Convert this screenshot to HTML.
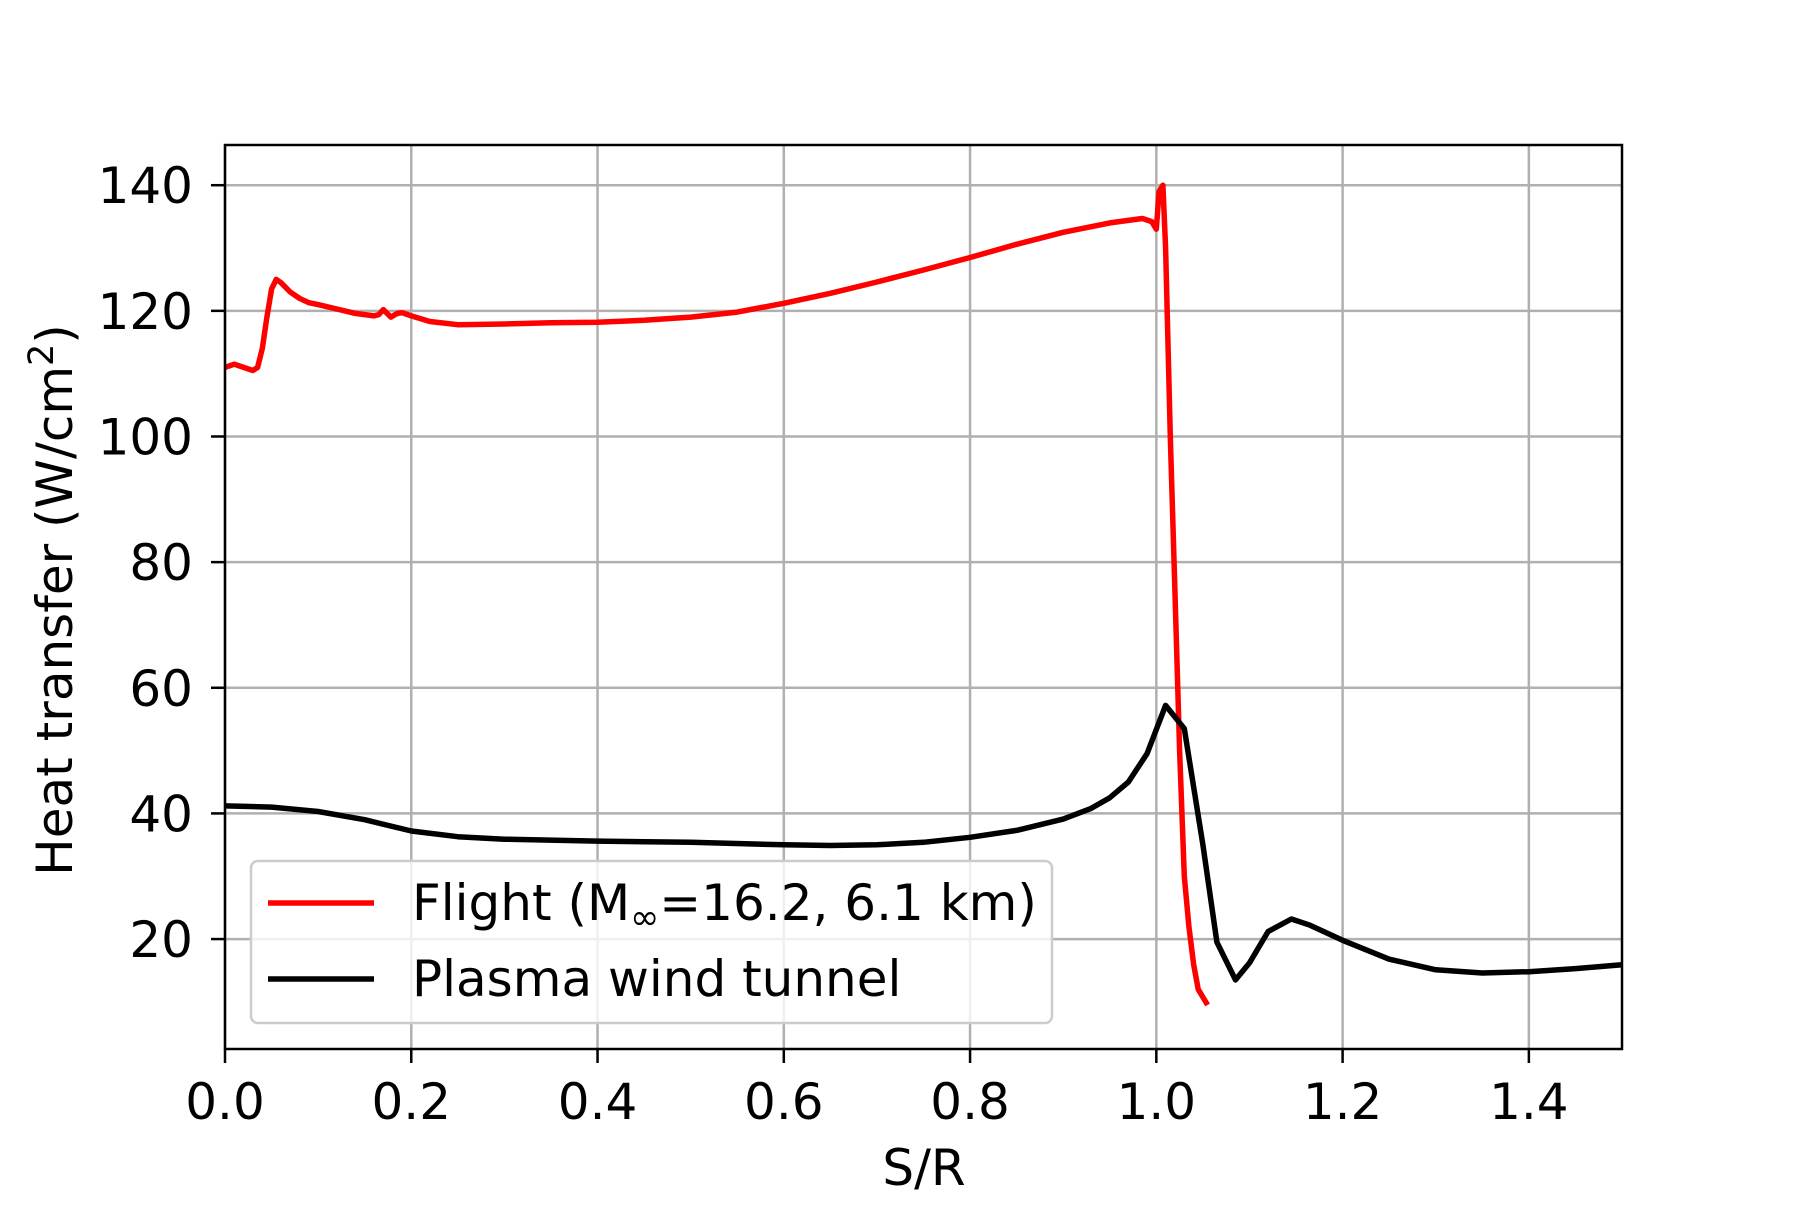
<!DOCTYPE html>
<html><head><meta charset="utf-8"><style>
html,body{margin:0;padding:0;background:#fff;}
svg text{font-family:"DejaVu Sans","Liberation Sans",sans-serif;}
</style></head><body>
<svg id="chart" width="1800" height="1200" viewBox="0 0 1800 1200" xmlns="http://www.w3.org/2000/svg">
<rect width="1800" height="1200" fill="#fff"/>
<g id="grid"></g>
<g id="series"></g>
<rect x="225" y="145" width="1397" height="904" fill="none" stroke="#000" stroke-width="2.5"/>
<g id="ticks"></g>
<text x="924" y="1185" font-size="50" text-anchor="middle">S/R</text>
<text transform="translate(72,600) rotate(-90)" font-size="50" text-anchor="middle">Heat transfer (W/cm<tspan font-size="35" dy="-19">2</tspan><tspan dy="19">)</tspan></text>
<g>
<rect x="251" y="861" width="801" height="162" rx="7" fill="#fff" fill-opacity="0.8" stroke="#ccc" stroke-width="2.5"/>
<line x1="268" y1="903" x2="374" y2="903" stroke="#ff0000" stroke-width="5.5"/>
<text x="412" y="920" font-size="50">Flight (M<tspan font-size="35" dy="9">∞</tspan><tspan dy="-9">=16.2, 6.1 km)</tspan></text>
<line x1="268" y1="979" x2="374" y2="979" stroke="#000" stroke-width="5.5"/>
<text x="412" y="996" font-size="50">Plasma wind tunnel</text>
</g>
</svg>
<script>
const xTicks=[0,0.2,0.4,0.6,0.8,1.0,1.2,1.4];
const xTickLabels=["0.0","0.2","0.4","0.6","0.8","1.0","1.2","1.4"];
const yTicks=[20,40,60,80,100,120,140];
const yTickLabels=["20","40","60","80","100","120","140"];
const flightX=[0,0.01,0.02,0.03,0.035,0.04,0.045,0.05,0.055,0.06,0.07,0.08,0.09,0.1,0.12,0.14,0.16,0.165,0.17,0.178,0.185,0.19,0.2,0.22,0.25,0.3,0.35,0.4,0.45,0.5,0.55,0.6,0.65,0.7,0.75,0.8,0.85,0.9,0.95,0.985,0.995,1.0,1.003,1.007,1.01,1.015,1.02,1.025,1.03,1.035,1.04,1.045,1.055];
const flightY=[111,111.5,111,110.5,111,114,119,123.5,125,124.5,123,122,121.3,121,120.3,119.6,119.2,119.4,120.2,119,119.6,119.7,119.2,118.3,117.8,117.9,118.1,118.2,118.5,119,119.8,121.2,122.8,124.6,126.5,128.5,130.6,132.5,134,134.7,134.2,133,139,140,130,100,75,50,30,22,16,12,9.5];
const tunnelX=[0,0.05,0.1,0.15,0.2,0.25,0.3,0.4,0.5,0.6,0.65,0.7,0.75,0.8,0.85,0.9,0.93,0.95,0.97,0.99,1.01,1.03,1.05,1.065,1.085,1.1,1.12,1.145,1.165,1.2,1.25,1.3,1.35,1.4,1.45,1.5];
const tunnelY=[41.2,41,40.3,39,37.2,36.3,35.9,35.6,35.4,35,34.9,35,35.4,36.2,37.3,39.1,40.8,42.5,45,49.5,57.2,53.5,35,19.5,13.5,16.2,21.2,23.2,22.2,19.8,16.8,15.1,14.6,14.8,15.3,15.9];
const L=225,R=1622,T=145,B=1049,XMIN=0,XMAX=1.5,YMIN=2.5,YMAX=146.4;
const sx=v=>L+(v-XMIN)/(XMAX-XMIN)*(R-L);
const sy=v=>B-(v-YMIN)/(YMAX-YMIN)*(B-T);
const NS="http://www.w3.org/2000/svg";
function mk(tag,attrs,parent){const e=document.createElementNS(NS,tag);for(const k in attrs)e.setAttribute(k,attrs[k]);parent.appendChild(e);return e;}
const grid=document.getElementById('grid'),ticks=document.getElementById('ticks'),series=document.getElementById('series');
xTicks.forEach((v,i)=>{
 const g=mk('line',{x1:sx(v),x2:sx(v),y1:T,y2:B,stroke:'#b0b0b0','stroke-width':2.5},grid);
 
 
 const t=mk('line',{x1:sx(v),x2:sx(v),y1:B,y2:B+14,stroke:'#000','stroke-width':2.5},ticks);
 
 
 const l=mk('text',{x:sx(v),y:1119,'font-size':50,'text-anchor':'middle'},ticks);
 l.textContent=xTickLabels[i];
 
 
});
yTicks.forEach((v,i)=>{
 const g=mk('line',{x1:L,x2:R,y1:sy(v),y2:sy(v),stroke:'#b0b0b0','stroke-width':2.5},grid);
 
 
 const t=mk('line',{x1:L-14,x2:L,y1:sy(v),y2:sy(v),stroke:'#000','stroke-width':2.5},ticks);
 
 
 const l=mk('text',{x:L-32,y:sy(v)+18,'font-size':50,'text-anchor':'end'},ticks);
 l.textContent=yTickLabels[i];
 
 
});
function pts(xs,ys){return xs.map((x,i)=>sx(x).toFixed(1)+','+sy(ys[i]).toFixed(1)).join(' ');}
const pf=mk('polyline',{points:pts(flightX,flightY),fill:'none',stroke:'#ff0000','stroke-width':5.5,'stroke-linejoin':'round'},series);


const pt=mk('polyline',{points:pts(tunnelX,tunnelY),fill:'none',stroke:'#000','stroke-width':5.5,'stroke-linejoin':'round'},series);


</script>
</body></html>
